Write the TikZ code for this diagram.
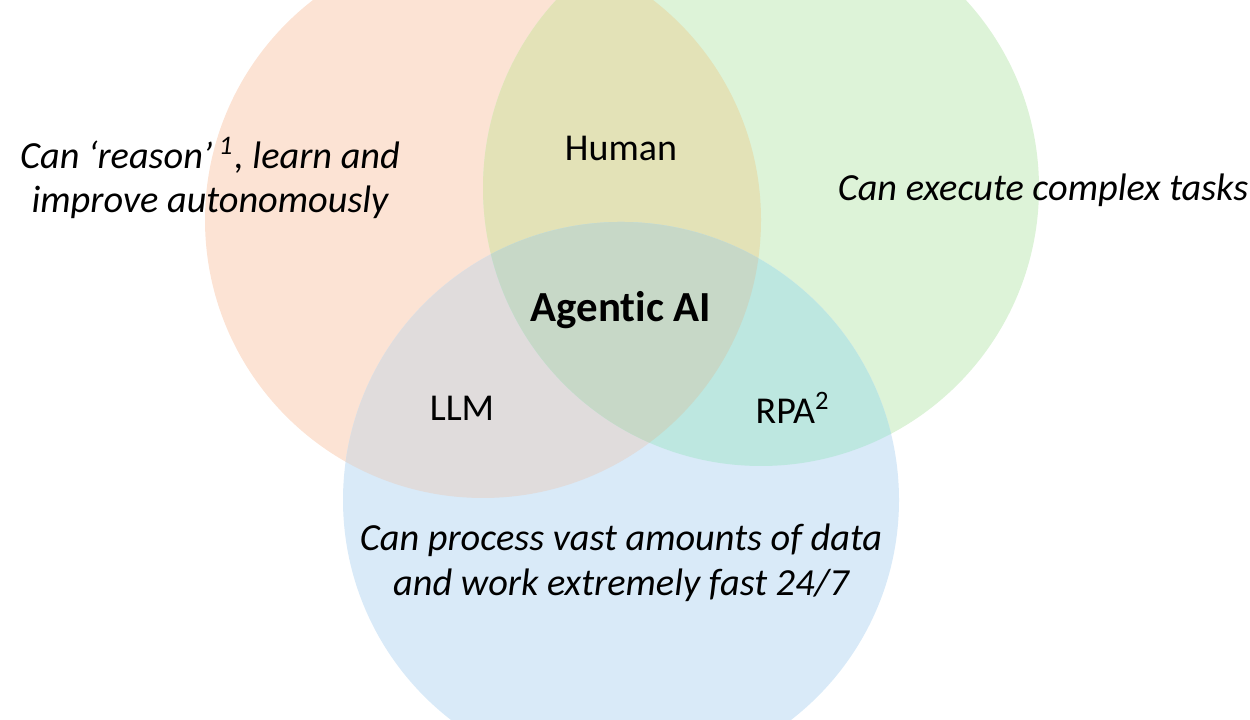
\documentclass[tikz,border=0pt]{standalone}
\usepackage{fontspec}
\setmainfont{Carlito}[RawFeature={-liga;-clig;-calt;-dlig;-rlig}]
\usepackage{xcolor}
\usepackage{tikz}
\usetikzlibrary{positioning}
\definecolor{vennOrange}{HTML}{FCE3D4}
\definecolor{vennGreen}{HTML}{DDF3D8}
\definecolor{vennBlue}{HTML}{D9EAF8}
\definecolor{vennHuman}{HTML}{E3E2B7}
\definecolor{vennLLM}{HTML}{E0DCDC}
\definecolor{vennRPA}{HTML}{BDE7E0}
\definecolor{vennCore}{HTML}{C7D8C7}
\def\vennR{2.78}

\begin{document}
\begin{tikzpicture}[
  every node/.style={font=\fontsize{10.8}{12.8}\selectfont, inner sep=0pt},
  claim/.style={align=center, font=\fontsize{10.9}{12.8}\selectfont\itshape},
  region/.style={align=center},
  core/.style={align=center, font=\fontsize{12.2}{14}\selectfont\bfseries}
]
\useasboundingbox (0,0) rectangle (12.5,7.2);
\clip (0,0) rectangle (12.5,7.2);
\coordinate (cO) at (4.83,5.00);
\coordinate (cG) at (7.61,5.32);
\coordinate (cB) at (6.21,2.20);

% Circles
\fill[vennOrange] (cO) circle (\vennR);
\fill[vennGreen] (cG) circle (\vennR);
\fill[vennBlue] (cB) circle (\vennR);

% Overlaps of two
\begin{scope}
  \clip (cO) circle (\vennR);
  \fill[vennHuman] (cG) circle (\vennR);
  \fill[vennLLM] (cB) circle (\vennR);
\end{scope}
\begin{scope}
  \clip (cG) circle (\vennR);
  \fill[vennRPA] (cB) circle (\vennR);
\end{scope}

% Overlap of all three
\begin{scope}
  \clip (cO) circle (\vennR);
  \clip (cG) circle (\vennR);
  \fill[vennCore] (cB) circle (\vennR);
\end{scope}

% Labels
\node[claim] (reason) at (2.10,5.42) {Can ‘reason’\,\textsuperscript{1}, learn and\\improve autonomously};
\node[claim] (execute) at (10.43,5.30) {Can execute complex tasks};
\node[claim] (process) at (6.21,1.57) {Can process vast amounts of data\\and work extremely fast 24/7};
\node[region] (human) at (6.21,5.72) {Human};
\node[core] (agentic) at (6.21,4.10) {Agentic AI};
\node[region] (llm) at (4.62,3.12) {LLM};
\node[region] (rpa) at (7.93,3.12) {RPA\textsuperscript{2}};
\end{tikzpicture}
\end{document}
